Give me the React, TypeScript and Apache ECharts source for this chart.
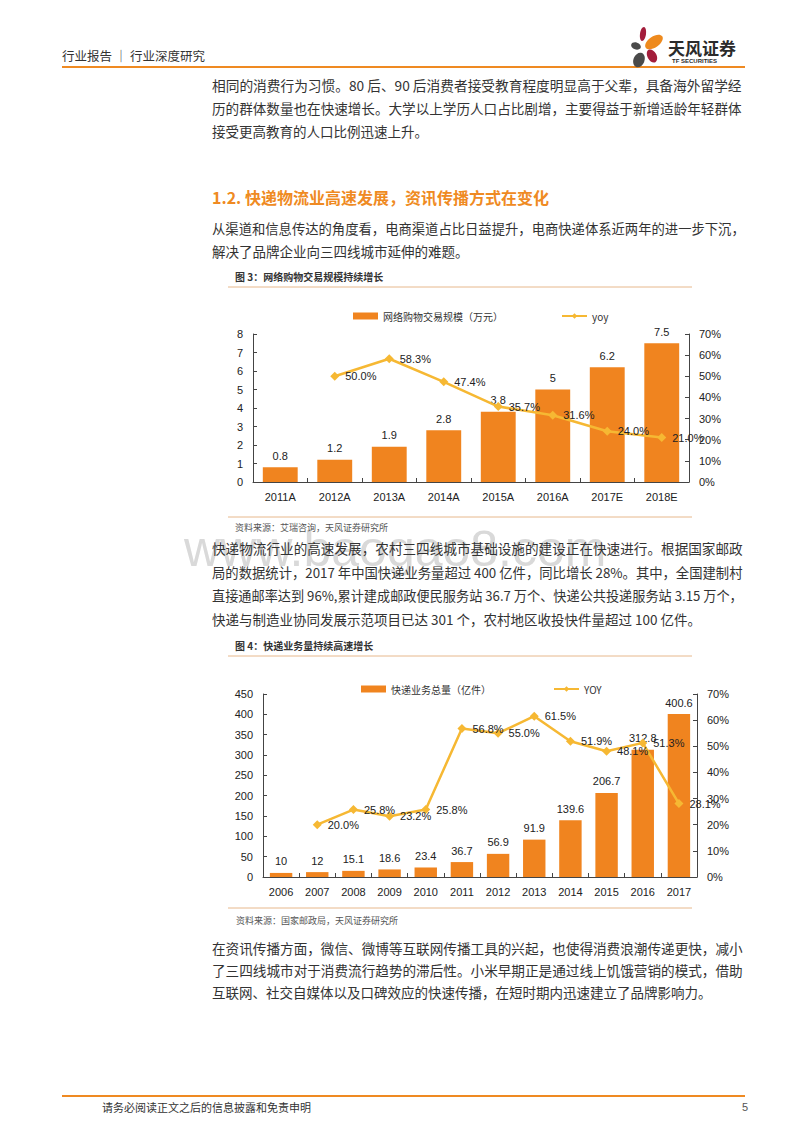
import React, { useEffect, useRef } from "react";
import * as echarts from "echarts";

const cats1 = ["2011A", "2012A", "2013A", "2014A", "2015A", "2016A", "2017E", "2018E"];
const scale1 = [0.8, 1.2, 1.9, 2.8, 3.8, 5, 6.2, 7.5];
const yoy1: (number | string)[] = ["-", 50.0, 58.3, 47.4, 35.7, 31.6, 24.0, 21.0];
const leftTicks1 = { min: 0, max: 8, interval: 1 };
const rightTicks = { min: 0, max: 70, interval: 10 };

const cats2 = ["2006", "2007", "2008", "2009", "2010", "2011", "2012", "2013", "2014", "2015", "2016", "2017"];
const volume2 = [10, 12, 15.1, 18.6, 23.4, 36.7, 56.9, 91.9, 139.6, 206.7, 312.8, 400.6];
const yoy2: (number | string)[] = ["-", 20.0, 25.8, 23.2, 25.8, 56.8, 55.0, 61.5, 51.9, 48.1, 51.3, 28.1];
const leftTicks2 = { min: 0, max: 450, interval: 50 };

const name1Bar = "网络购物交易规模（万元）";
const name1Line = "yoy";
const name2Bar = "快递业务总量（亿件）";
const name2Line = "YOY";

const para1 = [
  "相同的消费行为习惯。80 后、90 后消费者接受教育程度明显高于父辈，具备海外留学经",
  "历的群体数量也在快速增长。大学以上学历人口占比剧增，主要得益于新增适龄年轻群体",
  "接受更高教育的人口比例迅速上升。",
];
const heading = "1.2. 快递物流业高速发展，资讯传播方式在变化";
const para2 = [
  "从渠道和信息传达的角度看，电商渠道占比日益提升，电商快递体系近两年的进一步下沉，",
  "解决了品牌企业向三四线城市延伸的难题。",
];
const fig3Title = "图 3：网络购物交易规模持续增长";
const src3 = "资料来源：艾瑞咨询，天风证券研究所";
const para3 = [
  "快递物流行业的高速发展，农村三四线城市基础设施的建设正在快速进行。根据国家邮政",
  "局的数据统计，2017 年中国快递业务量超过 400 亿件，同比增长 28%。其中，全国建制村",
  "直接通邮率达到 96%,累计建成邮政便民服务站 36.7 万个、快递公共投递服务站 3.15 万个，",
  "快递与制造业协同发展示范项目已达 301 个，农村地区收投快件量超过 100 亿件。",
];
const fig4Title = "图 4：快递业务量持续高速增长";
const src4 = "资料来源：国家邮政局，天风证券研究所";
const para4 = [
  "在资讯传播方面，微信、微博等互联网传播工具的兴起，也使得消费浪潮传递更快，减小",
  "了三四线城市对于消费流行趋势的滞后性。小米早期正是通过线上饥饿营销的模式，借助",
  "互联网、社交自媒体以及口碑效应的快速传播，在短时期内迅速建立了品牌影响力。",
];

const CJK = '"Noto Sans CJK SC", "Noto Sans", sans-serif';
const LAT = '"Liberation Sans", Arial, sans-serif';
const ORANGE = "#EF8A22";
const BAR = "#F0841F";
const LINE = "#F6B833";
const TXT = "#333333";

let measureCtx: CanvasRenderingContext2D | null = null;
function measure(text: string, size: number, family: string, weight = "normal") {
  if (!measureCtx) measureCtx = document.createElement("canvas").getContext("2d");
  if (!measureCtx) return 0;
  measureCtx.font = `${weight} ${size}px ${family}`;
  return measureCtx.measureText(text).width;
}

function txt(text: string, x: number, y: number, o: any = {}) {
  const size = o.size || 13.5;
  const family = o.family || CJK;
  const weight = o.weight || "normal";
  let scaleX = 1;
  if (o.justifyTo) {
    const w = measure(text, size, family, weight);
    if (w > 0) scaleX = (o.justifyTo - x) / w;
  }
  return {
    type: "text",
    x,
    y,
    z: 10,
    scaleX,
    style: {
      text,
      fill: o.fill || TXT,
      fontSize: size,
      fontFamily: family,
      fontWeight: weight,
      align: o.align || "left",
      verticalAlign: "middle",
    },
  };
}
function hline(x1: number, x2: number, y: number, color: string, w: number) {
  return { type: "line", z: 10, shape: { x1, y1: y, x2, y2: y }, style: { stroke: color, lineWidth: w } };
}
function paragraph(lines: string[], x: number, y0: number, step: number, right: number) {
  return lines.map((l, i) => txt(l, x, y0 + i * step, i < lines.length - 1 ? { justifyTo: right } : {}));
}

export default function App() {
  const ref = useRef<HTMLDivElement>(null);
  useEffect(() => {
    if (!ref.current) return;
    const chart = echarts.init(ref.current, undefined, { renderer: "svg" });

    const graphics: any[] = [];
    // header
    graphics.push(txt("行业报告 ｜ 行业深度研究", 62, 55, { size: 12.5 }));
    graphics.push(hline(62, 745, 67, ORANGE, 2));
    // logo
    graphics.push({ type: "ellipse", z: 10, x: 643, y: 34, rotation: -0.15, shape: { cx: 0, cy: 0, rx: 3, ry: 7 }, style: { fill: "#A31D3B" } });
    graphics.push({ type: "ellipse", z: 10, x: 654, y: 42, rotation: 0.6, shape: { cx: 0, cy: 0, rx: 10, ry: 5.5 }, style: { fill: "#EE8A1E" } });
    graphics.push({ type: "ellipse", z: 10, x: 636, y: 46, rotation: -0.3, shape: { cx: 0, cy: 0, rx: 5, ry: 3.5 }, style: { fill: "#4A4A4A" } });
    graphics.push({ type: "ellipse", z: 10, x: 652, y: 56, rotation: 0.5, shape: { cx: 0, cy: 0, rx: 4.5, ry: 7 }, style: { fill: "#A31D3B" } });
    graphics.push({ type: "ellipse", z: 10, x: 639, y: 60, rotation: -0.4, shape: { cx: 0, cy: 0, rx: 5.5, ry: 7.5 }, style: { fill: "#4A4A4A" } });
    graphics.push(txt("天风证券", 668, 47, { size: 17, weight: "bold", fill: "#2B2B2B" }));
    graphics.push(txt("TF SECURITIES", 672, 61, { size: 6, weight: "bold", family: LAT, fill: "#2B2B2B" }));

    graphics.push(...paragraph(para1, 212, 85, 23, 742));
    graphics.push(txt(heading, 212, 197, { size: 16, weight: "bold", fill: ORANGE }));
    graphics.push(...paragraph(para2, 212, 228, 22.5, 745));

    graphics.push(txt(fig3Title, 235, 276, { size: 10, weight: "bold" }));
    graphics.push(hline(228, 692, 287, "#E7B88C", 1));
    graphics.push(hline(228, 692, 517, "#E7B88C", 1));
    graphics.push(txt(src3, 235, 527, { size: 9, fill: "#555" }));

    graphics.push({
      type: "text",
      x: 184,
      y: 549,
      z: 1,
      style: { text: "www.baogao8.com", fill: "#D9D9D9", fontSize: 50, fontFamily: LAT, align: "left", verticalAlign: "middle" },
    });
    graphics.push(...paragraph(para3, 212, 548, 23.5, 743));

    graphics.push(txt(fig4Title, 235, 645, { size: 10, weight: "bold" }));
    graphics.push(hline(228, 692, 656, "#E7B88C", 1));
    graphics.push(hline(228, 692, 908, "#E7B88C", 1));
    graphics.push(txt(src4, 236, 920, { size: 9, fill: "#555" }));

    graphics.push(...paragraph(para4, 212, 948, 22, 743));

    graphics.push(hline(62, 745, 1096, ORANGE, 2));
    graphics.push(txt("请务必阅读正文之后的信息披露和免责申明", 102, 1107, { size: 11 }));
    graphics.push(txt("5", 742, 1107, { size: 11, family: LAT, fill: "#555" }));

    const axisLabel = { color: "#222", fontSize: 11, fontFamily: LAT };
    const axisLine = { show: true, lineStyle: { color: "#444", width: 1 } };
    const yTick = { show: true, inside: true, length: 4, lineStyle: { color: "#444" } };

    const barLabel = { show: true, position: "top", color: "#222", fontSize: 11, fontFamily: LAT, distance: 6 };
    const lineLabel = {
      show: true,
      position: "right",
      color: "#222",
      fontSize: 11,
      fontFamily: LAT,
      distance: 6,
      formatter: (p: any) => Number(p.value).toFixed(1) + "%",
    };

    const legendText = { color: "#333", fontSize: 10, fontFamily: CJK };

    chart.setOption({
      animation: false,
      backgroundColor: "#fff",
      graphic: { elements: graphics },
      legend: [
        {
          data: [
            { name: name1Bar, icon: "rect", itemStyle: { color: BAR } },
            { name: name1Line },
          ],
          left: 348,
          top: 306,
          itemWidth: 25,
          itemHeight: 7,
          itemGap: 58,
          textStyle: legendText,
          selectedMode: false,
        },
        {
          data: [
            { name: name2Bar, icon: "rect", itemStyle: { color: BAR } },
            { name: name2Line },
          ],
          left: 356,
          top: 679,
          itemWidth: 25,
          itemHeight: 7,
          itemGap: 62,
          textStyle: legendText,
          selectedMode: false,
        },
      ],
      grid: [
        { left: 253, right: 111, top: 334, height: 148 },
        { left: 263, right: 103, top: 694, height: 183 },
      ],
      xAxis: [
        {
          type: "category",
          gridIndex: 0,
          data: cats1,
          axisLine,
          axisTick: { show: true, inside: true, length: 4, alignWithLabel: false, lineStyle: { color: "#444" } },
          axisLabel: { ...axisLabel, margin: 9 },
        },
        {
          type: "category",
          gridIndex: 1,
          data: cats2,
          axisLine,
          axisTick: { show: true, inside: true, length: 4, alignWithLabel: false, lineStyle: { color: "#444" } },
          axisLabel: { ...axisLabel, margin: 9 },
        },
      ],
      yAxis: [
        { type: "value", gridIndex: 0, ...leftTicks1, axisLine, axisTick: yTick, splitLine: { show: false }, axisLabel: { ...axisLabel, margin: 10 } },
        { type: "value", gridIndex: 0, position: "right", ...rightTicks, axisLine, axisTick: yTick, splitLine: { show: false }, axisLabel: { ...axisLabel, margin: 10, formatter: "{value}%" } },
        { type: "value", gridIndex: 1, ...leftTicks2, axisLine, axisTick: yTick, splitLine: { show: false }, axisLabel: { ...axisLabel, margin: 10 } },
        { type: "value", gridIndex: 1, position: "right", ...rightTicks, axisLine, axisTick: yTick, splitLine: { show: false }, axisLabel: { ...axisLabel, margin: 10, formatter: "{value}%" } },
      ],
      series: [
        {
          name: name1Bar,
          type: "bar",
          xAxisIndex: 0,
          yAxisIndex: 0,
          data: scale1,
          barWidth: "64%",
          itemStyle: { color: BAR },
          label: barLabel,
          z: 2,
        },
        {
          name: name1Line,
          type: "line",
          xAxisIndex: 0,
          yAxisIndex: 1,
          data: yoy1,
          symbol: "diamond",
          symbolSize: 9,
          itemStyle: { color: LINE },
          lineStyle: { color: LINE, width: 2.5 },
          label: lineLabel,
          z: 3,
        },
        {
          name: name2Bar,
          type: "bar",
          xAxisIndex: 1,
          yAxisIndex: 2,
          data: volume2,
          barWidth: "62%",
          itemStyle: { color: BAR },
          label: barLabel,
          z: 2,
        },
        {
          name: name2Line,
          type: "line",
          xAxisIndex: 1,
          yAxisIndex: 3,
          data: yoy2,
          symbol: "diamond",
          symbolSize: 9,
          itemStyle: { color: LINE },
          lineStyle: { color: LINE, width: 2.5 },
          label: lineLabel,
          z: 3,
        },
      ],
    });
    return () => chart.dispose();
  }, []);

  return (
    <div
      ref={ref}
      style={{ position: "absolute", left: 0, top: 0, width: 800, height: 1132, background: "#fff" }}
    />
  );
}
